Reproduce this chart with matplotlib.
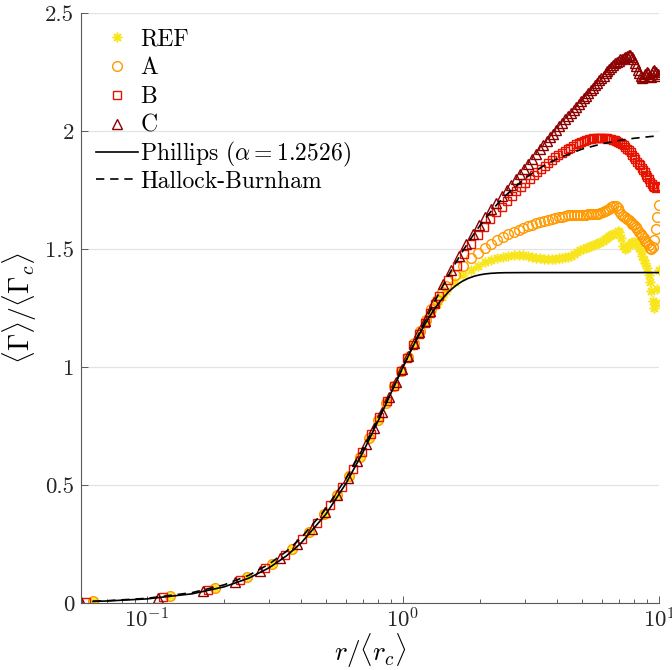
import matplotlib
matplotlib.use('Agg')
import matplotlib.pyplot as plt
from matplotlib.ticker import FixedLocator, NullFormatter

plt.rcParams['font.family'] = 'serif'
plt.rcParams['font.serif'] = ['cmr10', 'DejaVu Serif']
plt.rcParams['mathtext.fontset'] = 'cm'
plt.rcParams['axes.formatter.use_mathtext'] = True

# ---------------- data ----------------
r_a = [0.0615, 0.123, 0.1845, 0.246, 0.3075, 0.369, 0.4305, 0.492, 0.5535, 0.615,
       0.6765, 0.738, 0.7995, 0.861, 0.9225, 0.984, 1.0455, 1.107, 1.1685, 1.23,
       1.2915, 1.353, 1.4145, 1.476,
       1.599, 1.722, 1.845, 1.968, 2.091, 2.214, 2.337, 2.46, 2.583, 2.706, 2.829,
       2.952, 3.075, 3.198, 3.321, 3.444, 3.567, 3.69, 3.813, 3.936, 4.059, 4.182, 4.305,
       4.428, 4.551, 4.674, 4.797, 4.92, 5.043, 5.166, 5.289, 5.412, 5.535, 5.658,
       5.781, 5.904, 6.027, 6.15, 6.273, 6.396, 6.519, 6.642, 6.765, 6.888, 7.011,
       7.134, 7.257, 7.38, 7.503, 7.626, 7.749, 7.872, 7.995, 8.118, 8.241, 8.364, 8.487,
       8.61, 8.733, 8.856, 8.979, 9.102, 9.225, 9.348, 9.471, 9.594, 9.717, 9.84, 9.963]

ref_vals = [0.0071, 0.0280, 0.0621, 0.1082, 0.1646, 0.2296, 0.3014, 0.3780, 0.4576, 0.5386,
            0.6194, 0.6988, 0.7757, 0.8492, 0.9187, 0.9838, 1.043, 1.095, 1.145, 1.19,
            1.232, 1.268, 1.298, 1.323,
            1.36, 1.39, 1.41, 1.43, 1.445, 1.455, 1.462, 1.468, 1.472, 1.474, 1.475,
            1.473, 1.47, 1.467, 1.463, 1.46, 1.458, 1.457, 1.457, 1.458, 1.46, 1.463, 1.466,
            1.468, 1.472, 1.48, 1.488, 1.495, 1.50, 1.504, 1.508, 1.512, 1.516, 1.52,
            1.525, 1.53, 1.536, 1.542, 1.548, 1.553, 1.558, 1.563, 1.568, 1.575, 1.574,
            1.545, 1.512, 1.50, 1.505, 1.518, 1.525, 1.53, 1.53, 1.527, 1.52, 1.505, 1.49,
            1.47, 1.455, 1.44, 1.42, 1.39, 1.36, 1.32, 1.28, 1.25, 1.27, 1.33, 1.41]

a_vals = [0.0072, 0.0282, 0.0624, 0.1085, 0.1650, 0.2300, 0.3018, 0.3785, 0.4580, 0.5390,
          0.6198, 0.6990, 0.7760, 0.8495, 0.9190, 0.9840, 1.044, 1.10, 1.153, 1.20,
          1.245, 1.285, 1.318, 1.345,
          1.39, 1.43, 1.46, 1.485, 1.505, 1.522, 1.537, 1.55, 1.562, 1.572, 1.581,
          1.59, 1.597, 1.603, 1.609, 1.614, 1.619, 1.623, 1.627, 1.631, 1.634, 1.637, 1.64,
          1.642, 1.643, 1.644, 1.645, 1.645, 1.646, 1.646, 1.647, 1.647, 1.648, 1.649,
          1.65, 1.652, 1.655, 1.66, 1.665, 1.671, 1.678, 1.684, 1.682, 1.672, 1.66,
          1.648, 1.64, 1.634, 1.628, 1.622, 1.615, 1.608, 1.60, 1.592, 1.583, 1.574, 1.565,
          1.555, 1.545, 1.535, 1.525, 1.515, 1.505, 1.50, 1.51, 1.54, 1.585, 1.635, 1.685]

r_b = [0.0578, 0.1156, 0.1734, 0.2312, 0.289, 0.3468, 0.4046, 0.4624, 0.5202, 0.578,
       0.6358, 0.6936, 0.7514, 0.8092, 0.867, 0.9248, 0.9826, 1.0404, 1.0982, 1.156,
       1.2138, 1.2716, 1.3294, 1.3872,
       1.5028, 1.6184, 1.734, 1.8496, 1.9652, 2.0808, 2.1964, 2.312, 2.4276, 2.5432,
       2.6588, 2.7744, 2.89, 3.0056, 3.1212, 3.2368, 3.3524, 3.468, 3.5836, 3.6992,
       3.8148, 3.9304, 4.046, 4.1616, 4.2772, 4.3928, 4.5084, 4.624, 4.7396, 4.8552,
       4.9708, 5.0864, 5.202, 5.3176, 5.4332, 5.5488, 5.6644, 5.78, 5.8956, 6.0112,
       6.1268, 6.2424, 6.358, 6.4736, 6.5892, 6.7048, 6.8204, 6.936, 7.0516, 7.1672,
       7.2828, 7.3984, 7.514, 7.6296, 7.7452, 7.8608, 7.9764, 8.092, 8.2076, 8.3232,
       8.4388, 8.5544, 8.67, 8.7856, 8.9012, 9.0168, 9.1324, 9.248, 9.3636, 9.4792,
       9.5948, 9.7104, 9.826, 9.9416]

b_vals = [0.0063, 0.0248, 0.0555, 0.0965, 0.147, 0.2055, 0.2712, 0.3411, 0.4145, 0.4898,
          0.5659, 0.6415, 0.7155, 0.7872, 0.8559, 0.9211, 0.9823, 1.0392, 1.0915, 1.14,
          1.185, 1.227, 1.266, 1.302,
          1.37, 1.428, 1.478, 1.522, 1.56, 1.595, 1.626, 1.655, 1.68, 1.703,
          1.725, 1.745, 1.763, 1.78, 1.797, 1.812, 1.826, 1.84, 1.853, 1.866,
          1.878, 1.889, 1.90, 1.908, 1.915, 1.923, 1.93, 1.938, 1.945, 1.95,
          1.955, 1.959, 1.962, 1.965, 1.967, 1.969, 1.97, 1.971, 1.971, 1.971,
          1.97, 1.969, 1.968, 1.966, 1.963, 1.96, 1.957, 1.954, 1.95, 1.945,
          1.94, 1.933, 1.925, 1.918, 1.91, 1.90, 1.89, 1.88, 1.87, 1.862,
          1.855, 1.845, 1.835, 1.825, 1.815, 1.805, 1.795, 1.785, 1.775, 1.768,
          1.762, 1.76, 1.762, 1.765]

r_c = [0.0552, 0.1104, 0.1656, 0.2208, 0.276, 0.3312, 0.3864, 0.4416, 0.4968, 0.552,
       0.6072, 0.6624, 0.7176, 0.7728, 0.828, 0.8832, 0.9384, 0.9936, 1.0488, 1.104,
       1.1592, 1.2144, 1.2696, 1.3248,
       1.4352, 1.5456, 1.656, 1.7664, 1.8768, 1.9872, 2.0976, 2.208, 2.3184, 2.4288,
       2.5392, 2.6496, 2.76, 2.8704, 2.9808, 3.0912, 3.2016, 3.312, 3.4224, 3.5328,
       3.6432, 3.7536, 3.864, 3.9744, 4.0848, 4.1952, 4.3056, 4.416, 4.5264, 4.6368,
       4.7472, 4.8576, 4.968, 5.0784, 5.1888, 5.2992, 5.4096, 5.52, 5.6304, 5.7408,
       5.8512, 5.9616, 6.072, 6.1824, 6.2928, 6.4032, 6.5136, 6.624, 6.7344, 6.8448,
       6.9552, 7.0656, 7.176, 7.2864, 7.3968, 7.5072, 7.6176, 7.728, 7.8384, 7.9488,
       8.0592, 8.1696, 8.28, 8.3904, 8.5008, 8.6112, 8.7216, 8.832, 8.9424, 9.0528,
       9.1632, 9.2736, 9.384, 9.4944, 9.6048, 9.7152, 9.8256, 9.936]

c_vals = [0.0057, 0.0225, 0.0500, 0.0874, 0.1357, 0.1896, 0.2499, 0.3152, 0.3842, 0.4557,
          0.5283, 0.6009, 0.6724, 0.7423, 0.8097, 0.8743, 0.9356, 0.9932, 1.048, 1.10,
          1.148, 1.194, 1.237, 1.277,
          1.35, 1.413, 1.47, 1.52, 1.563, 1.602, 1.637, 1.668, 1.697, 1.723,
          1.748, 1.772, 1.795, 1.818, 1.84, 1.862, 1.883, 1.903, 1.922, 1.94,
          1.957, 1.973, 1.988, 2.004, 2.02, 2.035, 2.05, 2.064, 2.077, 2.09,
          2.102, 2.115, 2.127, 2.139, 2.15, 2.161, 2.172, 2.184, 2.195, 2.205,
          2.215, 2.225, 2.235, 2.245, 2.255, 2.264, 2.272, 2.28, 2.287, 2.293,
          2.298, 2.303, 2.307, 2.311, 2.315, 2.318, 2.32, 2.32, 2.315, 2.305,
          2.29, 2.275, 2.26, 2.245, 2.232, 2.225, 2.23, 2.24, 2.25, 2.245,
          2.235, 2.23, 2.24, 2.255, 2.26, 2.25, 2.235, 2.24]

r_th = [0.0615, 0.07, 0.1, 0.15, 0.2, 0.25, 0.3, 0.35, 0.4, 0.5, 0.6, 0.7, 0.8, 0.9,
        1.0, 1.1, 1.2, 1.3, 1.4, 1.5, 1.6, 1.7, 1.8, 1.9, 2.0, 2.1, 2.2, 2.35, 2.5,
        3.0, 3.5, 4.0, 5.0, 6.0, 7.0, 8.0, 10.0]
phillips = [0.00662, 0.00857, 0.01743, 0.03891, 0.06842, 0.10543, 0.14927, 0.19916,
            0.25427, 0.37643, 0.50819, 0.64222, 0.77204, 0.89249, 1.0, 1.09254, 1.16952,
            1.23151, 1.27989, 1.31650, 1.34340, 1.36260, 1.37591, 1.38488, 1.39075,
            1.39450, 1.39683, 1.39871, 1.39953, 1.40007, 1.40009, 1.40009, 1.40009,
            1.40009, 1.40009, 1.40009, 1.40009]
hallock = [0.00754, 0.00975, 0.0198, 0.0440, 0.0769, 0.1176, 0.1651, 0.2183, 0.2759,
           0.4, 0.5294, 0.6577, 0.7805, 0.8950, 1.0, 1.0950, 1.1803, 1.2565, 1.3243,
           1.3846, 1.4382, 1.4859, 1.5283, 1.5662, 1.6, 1.6303, 1.6575, 1.6934, 1.7241,
           1.8, 1.8491, 1.8824, 1.9231, 1.9459, 1.96, 1.9692, 1.9802]

labels = ['REF', 'A', 'B', 'C']
model_labels = [r'Phillips ($\alpha = 1.2526$)', 'Hallock-Burnham']
colors = ['#F8E51C', '#FF9900', '#E81200', '#8C0000']
x_ticks = [0.1, 1, 10]
x_ticklabels = [r'$10^{-1}$', r'$10^{0}$', r'$10^{1}$']
y_ticks = [0, 0.5, 1, 1.5, 2, 2.5]
y_ticklabels = ['0', '0.5', '1', '1.5', '2', '2.5']

for xs, ys in [(r_a, ref_vals), (r_a, a_vals), (r_b, b_vals), (r_c, c_vals),
               (r_th, phillips), (r_th, hallock)]:
    assert len(xs) == len(ys), (len(xs), len(ys))

# ---------------- figure ----------------
fig = plt.figure(figsize=(6.72, 6.70), dpi=100)
ax = fig.add_axes([0.1205, 0.1, 0.8601, 0.8806])

h_ref, = ax.plot(r_a, ref_vals, linestyle='none', marker=(8, 2, 0), ms=7, mew=1.1,
                 color=colors[0], label=labels[0])
h_a, = ax.plot(r_a, a_vals, linestyle='none', marker='o', ms=7, mew=1.0,
               mfc='none', mec=colors[1], label=labels[1])
h_b, = ax.plot(r_b, b_vals, linestyle='none', marker='s', ms=6.3, mew=1.0,
               mfc='none', mec=colors[2], label=labels[2])
h_c, = ax.plot(r_c, c_vals, linestyle='none', marker='^', ms=7.5, mew=1.0,
               mfc='none', mec=colors[3], label=labels[3])
h_ph, = ax.plot(r_th, phillips, color='black', lw=1.2, label=model_labels[0])
h_hb, = ax.plot(r_th, hallock, color='black', lw=1.2, linestyle=(0, (5, 3.5)),
                label=model_labels[1])

ax.set_xscale('log')
ax.set_xlim(0.0552, 10)
ax.set_ylim(0, 2.5)

ax.xaxis.set_major_locator(FixedLocator(x_ticks))
ax.set_xticklabels(x_ticklabels)
minors = [m * 10.0 ** e for e in (-2, -1, 0) for m in range(2, 10)]
ax.xaxis.set_minor_locator(FixedLocator(minors))
ax.xaxis.set_minor_formatter(NullFormatter())
ax.set_yticks(y_ticks)
ax.set_yticklabels(y_ticklabels)

ax.grid(axis='y', color='#e3e3e3', lw=0.9)
ax.set_axisbelow(True)
for s in ('top', 'right'):
    ax.spines[s].set_visible(False)
for s in ('left', 'bottom'):
    ax.spines[s].set_color('#5a5a5a')
    ax.spines[s].set_linewidth(0.8)

ax.tick_params(axis='both', which='both', direction='in', colors='#5a5a5a',
               labelcolor='#262626', labelsize=16.5, width=0.7)
ax.tick_params(axis='both', which='major', length=5)
ax.tick_params(axis='x', which='minor', length=3)
ax.tick_params(axis='x', pad=3)
ax.tick_params(axis='y', pad=5)

ax.set_xlabel(r'$r/\langle r_c\rangle$', fontsize=19.5, labelpad=0)
ax.set_ylabel(r'$\langle\Gamma\rangle/\langle\Gamma_c\rangle$', fontsize=20, labelpad=4)

leg1 = ax.legend(handles=[h_ref, h_a, h_b, h_c], loc='upper left', frameon=False,
                 fontsize=17, handlelength=1.8, handletextpad=0.1, labelspacing=0.28,
                 borderaxespad=0.0, bbox_to_anchor=(0.009, 0.9895))
ax.add_artist(leg1)
leg2 = ax.legend(handles=[h_ph, h_hb], loc='center left', frameon=False,
                 fontsize=17, handlelength=1.8, handletextpad=0.1, labelspacing=0.08,
                 borderaxespad=0.0, bbox_to_anchor=(0.009, 0.7407))

fig.savefig('out.png', dpi=100)
